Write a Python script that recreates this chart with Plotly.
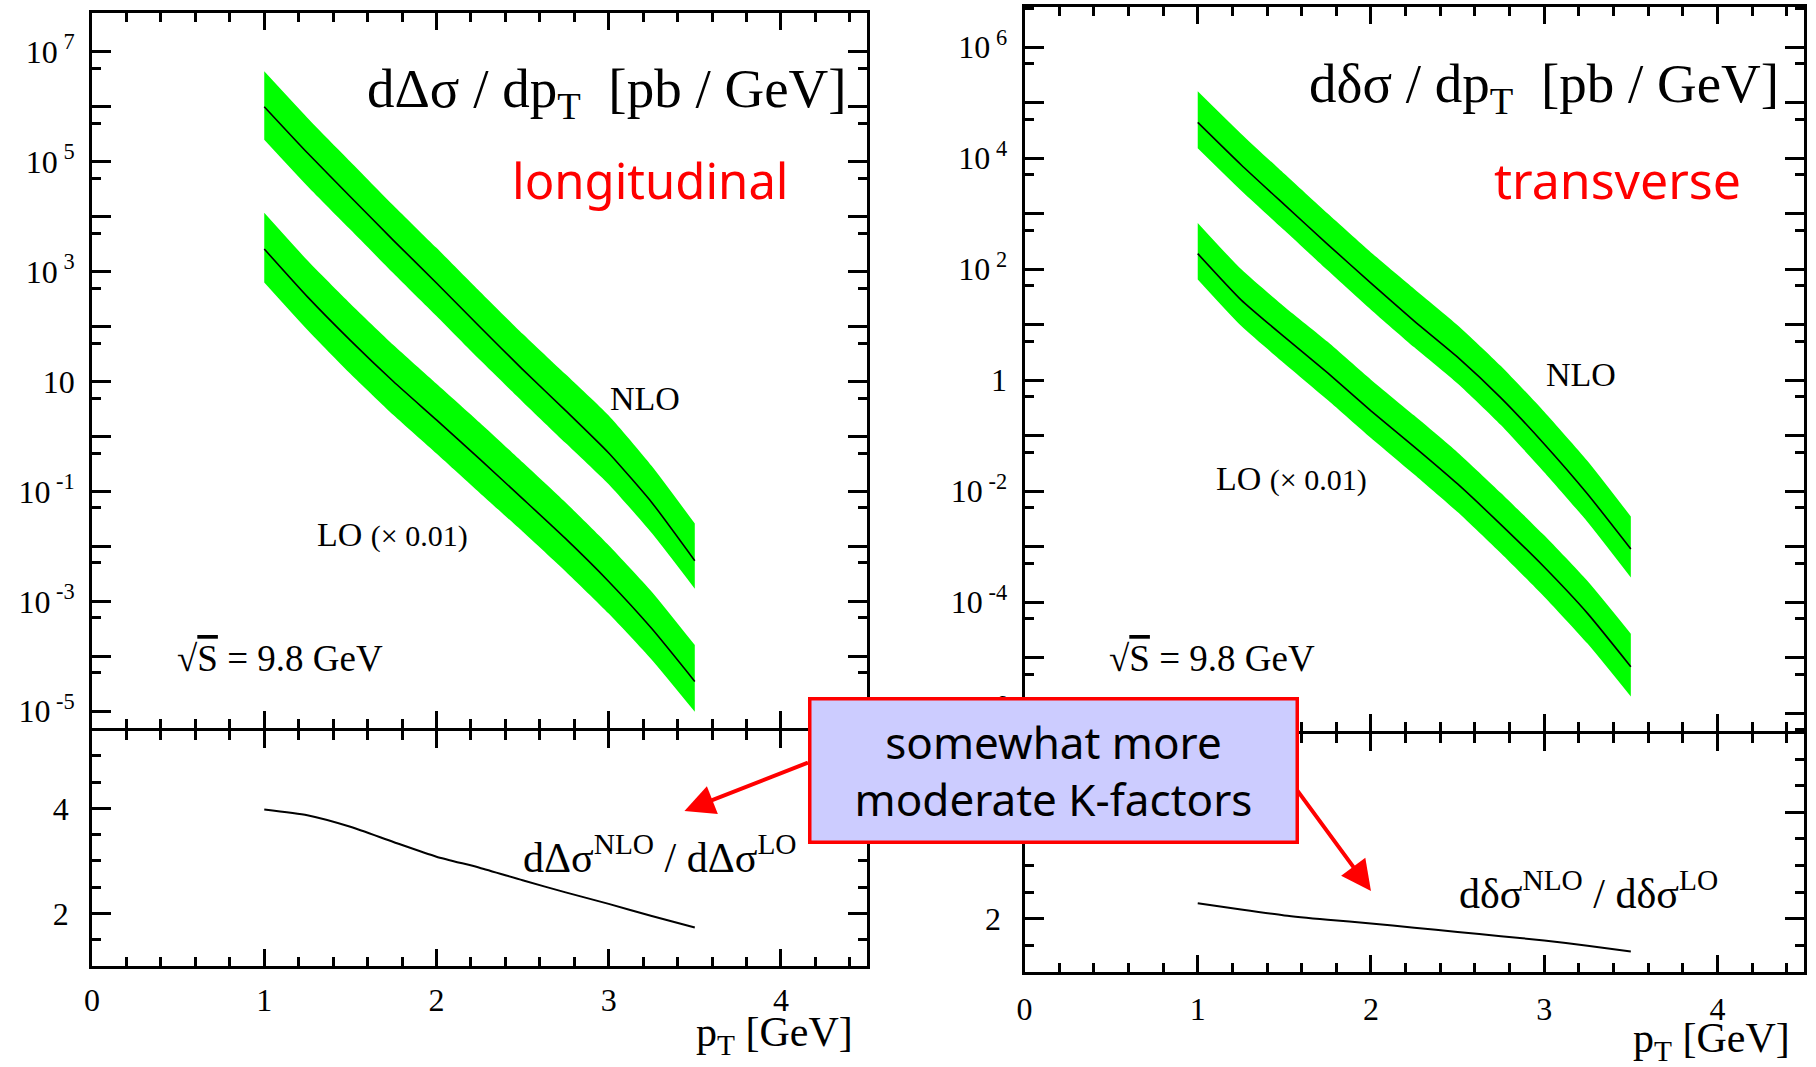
import plotly.graph_objects as go

# ---------------- data ----------------
pt = [1.0, 1.25, 1.5, 1.75, 2.0, 2.25, 2.5, 2.75, 3.0, 3.25, 3.5]

# longitudinal (left panel)  d Delta sigma / dpT  [pb/GeV]
long_nlo = [1.0e6, 1.45e5, 2.3e4, 3.7e3, 6.2e2, 1.0e2, 16.6, 2.95, 0.50, 0.063, 0.0055]
long_nlo_up = [4.4e6, 6.3e5, 1.0e5, 1.6e4, 2.7e3, 4.4e2, 74, 13.5, 2.4, 0.29, 0.026]
long_nlo_lo = [2.5e5, 3.6e4, 5.8e3, 9.3e2, 1.55e2, 25, 4.3, 0.76, 0.135, 0.0175, 0.0017]
long_lo = [2.57e3, 3.5e2, 56, 10, 2.0, 0.39, 0.074, 0.0138, 2.3e-3, 3.2e-4, 3.5e-5]
long_lo_up = [1.17e4, 1.6e3, 2.6e2, 46, 9.1, 1.8, 0.34, 0.063, 0.0105, 1.5e-3, 1.6e-4]
long_lo_lo = [6.3e2, 87, 13.8, 2.45, 0.49, 0.095, 0.0186, 3.5e-3, 6.0e-4, 8.7e-5, 9.8e-6]
long_k = [3.98, 3.87, 3.65, 3.36, 3.08, 2.87, 2.63, 2.40, 2.18, 1.95, 1.73]

# transverse (right panel)  d delta sigma / dpT  [pb/GeV]
trans_nlo = [4.4e4, 7.6e3, 1.45e3, 2.8e2, 56, 11.6, 2.6, 0.48, 0.071, 8.9e-3, 9.1e-4]
trans_nlo_up = [1.6e5, 2.75e4, 5.2e3, 1.0e3, 2.0e2, 44, 9.8, 1.8, 0.27, 0.035, 3.5e-3]
trans_nlo_lo = [1.5e4, 2.6e3, 5.0e2, 95, 18.6, 3.9, 0.87, 0.155, 0.022, 2.8e-3, 2.8e-4]
trans_lo = [190, 28, 6.0, 1.35, 0.28, 0.063, 0.0135, 2.5e-3, 4.3e-4, 6.3e-5, 6.9e-6]
trans_lo_up = [6.8e2, 1.0e2, 21, 4.9, 1.02, 0.23, 0.05, 9.3e-3, 1.6e-3, 2.4e-4, 2.7e-5]
trans_lo_lo = [65, 9.5, 2.0, 0.44, 0.091, 0.02, 4.2e-3, 7.6e-4, 1.26e-4, 1.8e-5, 2.0e-6]
trans_k = [2.29, 2.17, 2.06, 1.98, 1.91, 1.83, 1.75, 1.67, 1.59, 1.49, 1.38]

# tick labels
left_exps = list(range(-5, 8))
right_exps = list(range(-6, 7))
x_ticks = [0, 1, 2, 3, 4]

SERIF = "Liberation Serif, Times New Roman, serif"
SANS = "Noto Sans, sans-serif"
GREEN = "#00FF00"
TICKFONT = dict(family=SERIF, size=32, color="black")


def exp_label(e):
    if e == 0:
        return "1"
    if e == 1:
        return "10"
    return "10<sup> %d</sup>" % e


fig = go.Figure()
SMOOTH = dict(shape="spline", smoothing=0.55)


def band(xa, ya, up, lo, mid):
    fig.add_trace(go.Scatter(x=pt, y=up, mode="lines", line=dict(width=0, color=GREEN, **SMOOTH),
                             xaxis=xa, yaxis=ya, showlegend=False, hoverinfo="skip"))
    fig.add_trace(go.Scatter(x=pt, y=lo, mode="lines", line=dict(width=0, color=GREEN, **SMOOTH),
                             fill="tonexty", fillcolor=GREEN,
                             xaxis=xa, yaxis=ya, showlegend=False, hoverinfo="skip"))
    fig.add_trace(go.Scatter(x=pt, y=mid, mode="lines",
                             line=dict(width=1.6, color="black", **SMOOTH),
                             xaxis=xa, yaxis=ya, showlegend=False))


band("x", "y", long_nlo_up, long_nlo_lo, long_nlo)
band("x", "y", long_lo_up, long_lo_lo, long_lo)
band("x3", "y3", trans_nlo_up, trans_nlo_lo, trans_nlo)
band("x3", "y3", trans_lo_up, trans_lo_lo, trans_lo)

fig.add_trace(go.Scatter(x=pt, y=long_k, mode="lines", line=dict(width=2, color="black", **SMOOTH),
                         xaxis="x2", yaxis="y2", showlegend=False))
fig.add_trace(go.Scatter(x=pt, y=trans_k, mode="lines", line=dict(width=2, color="black", **SMOOTH),
                         xaxis="x4", yaxis="y4", showlegend=False))

W, H = 1816, 1067
L_dom = [84.4 / W, 862.8 / W]
R_dom = [1021.0 / W, 1804.0 / W]


def base_axis():
    return dict(showline=True, linewidth=3, linecolor="black", mirror="allticks",
                ticks="inside", tickwidth=3, tickcolor="black", showgrid=False,
                zeroline=False, tickfont=dict(TICKFONT))


def xaxis(domain, anchor, labels, standoff):
    d = base_axis()
    d.update(domain=domain, anchor=anchor, range=[0, 4.5], tickmode="array",
             tickvals=x_ticks, ticktext=[str(v) for v in x_ticks], ticklen=17,
             showticklabels=labels, ticklabelstandoff=standoff,
             minor=dict(dtick=0.2, tick0=0, ticks="inside", ticklen=9, tickwidth=3,
                        tickcolor="black"))
    return d


def ylog(domain, anchor, exps, rng, labelled_parity, standoff):
    d = base_axis()
    vals = [10.0 ** e for e in exps]
    text = [exp_label(e) if (e % 2) == labelled_parity else "" for e in exps]
    d.update(domain=domain, anchor=anchor, type="log", range=rng, tickmode="array",
             tickvals=vals, ticktext=text, ticklen=19, ticklabelstandoff=standoff,
             minor=dict(tickmode="array", tickvals=[5 * v for v in vals] + [0.5 * vals[0]],
                        ticks="inside", ticklen=9, tickwidth=3, tickcolor="black"))
    return d


def ylin(domain, anchor):
    d = base_axis()
    d.update(domain=domain, anchor=anchor, range=[1, 5.47], tickmode="array",
             tickvals=[2, 4], ticktext=["2", "4"], ticklen=19, ticklabelstandoff=14,
             minor=dict(dtick=0.5, tick0=0, ticks="inside", ticklen=9, tickwidth=3,
                        tickcolor="black"))
    return d


lt_dom = [1 - 729.0 / H, 1 - 12.7 / H]
lb_dom = [1 - 966.7 / H, 1 - 732.0 / H]
rt_dom = [1 - 731.7 / H, 1 - 7.1 / H]
rb_dom = [1 - 972.7 / H, 1 - 734.7 / H]

fig.update_layout(
    width=W, height=H, margin=dict(l=0, r=0, t=0, b=0),
    paper_bgcolor="white", plot_bgcolor="white", showlegend=False,
    xaxis=xaxis(L_dom, "y", False, 6),
    yaxis=ylog(lt_dom, "x", left_exps, [-5.31, 7.71], 1, 8),
    xaxis2=xaxis(L_dom, "y2", True, 4),
    yaxis2=ylin(lb_dom, "x2"),
    xaxis3=xaxis(R_dom, "y3", False, 6),
    yaxis3=ylog(rt_dom, "x3", right_exps, [-6.32, 6.72], 0, 8),
    xaxis4=xaxis(R_dom, "y4", True, 7),
    yaxis4=ylin(rb_dom, "x4"),
)


def txt(x, y, s, size, xanchor="left", yanchor="middle", color="black", family=SERIF):
    fig.add_annotation(x=x / W, y=1 - y / H, xref="paper", yref="paper", text=s,
                       showarrow=False, xanchor=xanchor, yanchor=yanchor,
                       font=dict(family=family, size=size, color=color))


# panel titles
txt(845, 93, "d&#916;&#963; / dp<sub>T</sub>&nbsp;&nbsp;[pb / GeV]", 55, xanchor="right")
txt(1781, 88, "d&#948;&#963; / dp<sub>T</sub>&nbsp;&nbsp;[pb / GeV]", 55, xanchor="right")
txt(645, 180, "longitudinal", 49, xanchor="center", color="#FF0000", family=SANS)
txt(1617, 180, "transverse", 50, xanchor="center", color="#FF0000", family=SANS)

# curve labels
txt(640, 399, "NLO", 34, xanchor="center")
txt(1580, 375, "NLO", 34, xanchor="center")
txt(308, 535, "LO&nbsp;<span style='font-size:30px'>(&#215; 0.01)</span>", 34)
txt(1211, 479, "LO&nbsp;<span style='font-size:30px'>(&#215; 0.01)</span>", 34)
txt(168, 659, "&#8730;<span style='text-decoration:overline'>S</span> = 9.8 GeV", 37)
txt(1104, 659, "&#8730;<span style='text-decoration:overline'>S</span> = 9.8 GeV", 37)

# ratio labels
txt(515, 855, "d&#916;&#963;<sup>NLO</sup> / d&#916;&#963;<sup>LO</sup>", 42)
txt(1455, 891, "d&#948;&#963;<sup>NLO</sup> / d&#948;&#963;<sup>LO</sup>", 42)

# x-axis titles
txt(851, 1036, "p<sub>T</sub> [GeV]", 42, xanchor="right")
txt(1792, 1042, "p<sub>T</sub> [GeV]", 42, xanchor="right")

# arrows
fig.add_annotation(x=3.44, y=3.95, xref="x2", yref="y2", text="", showarrow=True,
                   ax=125, ay=-49, arrowhead=2, arrowsize=1.5, arrowwidth=4,
                   arrowcolor="#FF0000")
fig.add_annotation(x=2.0, y=2.52, xref="x4", yref="y4", text="", showarrow=True,
                   ax=-80, ay=-109, arrowhead=2, arrowsize=1.5, arrowwidth=4,
                   arrowcolor="#FF0000")

# comment box
fig.add_annotation(x=1050.5 / W, y=1 - 771.5 / H, xref="paper", yref="paper",
                   text="somewhat more<br>moderate K-factors", showarrow=False,
                   xanchor="center", yanchor="middle", align="center",
                   width=480, height=136, borderpad=2,
                   bgcolor="#CCCCFF", bordercolor="#FF0000", borderwidth=3.5,
                   font=dict(family=SANS, size=44, color="black"))

fig.write_html("out.html")
